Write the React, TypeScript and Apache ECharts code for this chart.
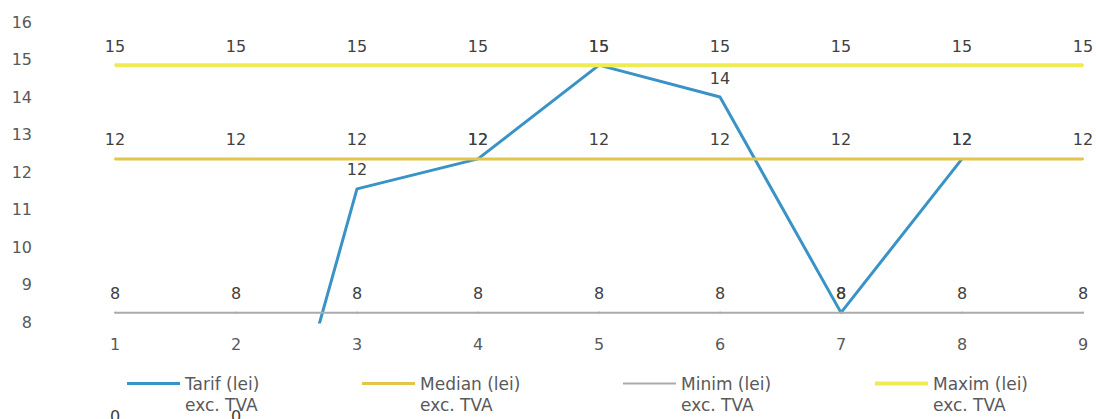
import React, { useEffect, useRef } from "react";
import * as echarts from "echarts";

// Categories (position index) and the four series, in lei excl. TVA
const categories = ["1", "2", "3", "4", "5", "6", "7", "8", "9"];
const tarif = [0, 0, 11.55, 12.35, 14.85, 14, 8.25, 12.35, null];
const median = [12.35, 12.35, 12.35, 12.35, 12.35, 12.35, 12.35, 12.35, 12.35];
const minim = [8.25, 8.25, 8.25, 8.25, 8.25, 8.25, 8.25, 8.25, 8.25];
const maxim = [14.85, 14.85, 14.85, 14.85, 14.85, 14.85, 14.85, 14.85, 14.85];

const seriesNames = [
  "Tarif (lei)\nexc. TVA",
  "Median (lei)\nexc. TVA",
  "Minim (lei)\nexc. TVA",
  "Maxim (lei)\nexc. TVA",
];
const colors = ["#3a93c6", "#e3c54a", "#ababab", "#eeec52"];
const widths = [3, 3, 2, 4];
const legendLeft = [127, 362, 623, 875];

const Y_MIN = 8;
const Y_MAX = 16;

const numFont = "DejaVu Sans";
const numSize = 16;

export default function App() {
  const ref = useRef<HTMLDivElement>(null);

  useEffect(() => {
    if (!ref.current) return;
    const chart = echarts.init(ref.current, null, { renderer: "svg" });

    const values = [tarif, median, minim, maxim];

    const series = values.map((data, i) => ({
      name: seriesNames[i],
      type: "line",
      data,
      symbol: "circle",
      symbolSize: 2,
      showSymbol: true,
      clip: true,
      connectNulls: false,
      itemStyle: { color: colors[i] },
      lineStyle: { color: colors[i], width: widths[i] },
      label: {
        show: true,
        position: "top",
        distance: 10,
        color: "#404040",
        fontFamily: numFont,
        fontSize: numSize,
        formatter: (p: any) => String(Math.round(p.value)),
      },
      emphasis: { disabled: true },
      z: 2 + i,
    }));

    // One legend per series so each entry sits at its own column
    const legends = seriesNames.map((name, i) => ({
      data: [name],
      left: legendLeft[i],
      top: 352,
      padding: 0,
      icon: "rect",
      itemWidth: 53,
      itemHeight: widths[i],
      itemGap: 4,
      selectedMode: false,
      // leading blank line keeps the first text line level with the swatch
      formatter: (n: string) => "\n" + n,
      textStyle: {
        fontFamily: numFont,
        fontSize: 17,
        color: "#595959",
        lineHeight: 21,
      },
    }));

    chart.setOption({
      animation: false,
      backgroundColor: "#ffffff",
      grid: { left: 115, right: 13, top: 22, bottom: 97 },
      legend: legends,
      xAxis: {
        type: "category",
        data: categories,
        boundaryGap: false,
        axisLine: { show: false },
        axisTick: { show: false },
        splitLine: { show: false },
        axisLabel: {
          color: "#595959",
          fontFamily: numFont,
          fontSize: numSize,
          margin: 14,
        },
      },
      yAxis: {
        type: "value",
        min: Y_MIN,
        max: Y_MAX,
        interval: 1,
        axisLine: { show: false },
        axisTick: { show: false },
        splitLine: { show: false },
        axisLabel: {
          color: "#595959",
          fontFamily: numFont,
          fontSize: numSize,
          margin: 83,
        },
      },
      series,
    });

    // Values below the axis range keep their labels at the bottom edge
    const graphics: any[] = [];
    tarif.forEach((v, i) => {
      if (v !== null && v < Y_MIN) {
        const x = chart.convertToPixel({ xAxisIndex: 0 }, i) as number;
        graphics.push({
          type: "text",
          x,
          y: 416,
          style: {
            text: String(Math.round(v)),
            fill: "#404040",
            font: `${numSize}px "${numFont}"`,
            align: "center",
            verticalAlign: "middle",
          },
        });
      }
    });
    chart.setOption({ graphic: graphics });

    return () => chart.dispose();
  }, []);

  return (
    <div
      ref={ref}
      style={{ position: "fixed", left: 0, top: 0, width: 1096, height: 419 }}
    />
  );
}
